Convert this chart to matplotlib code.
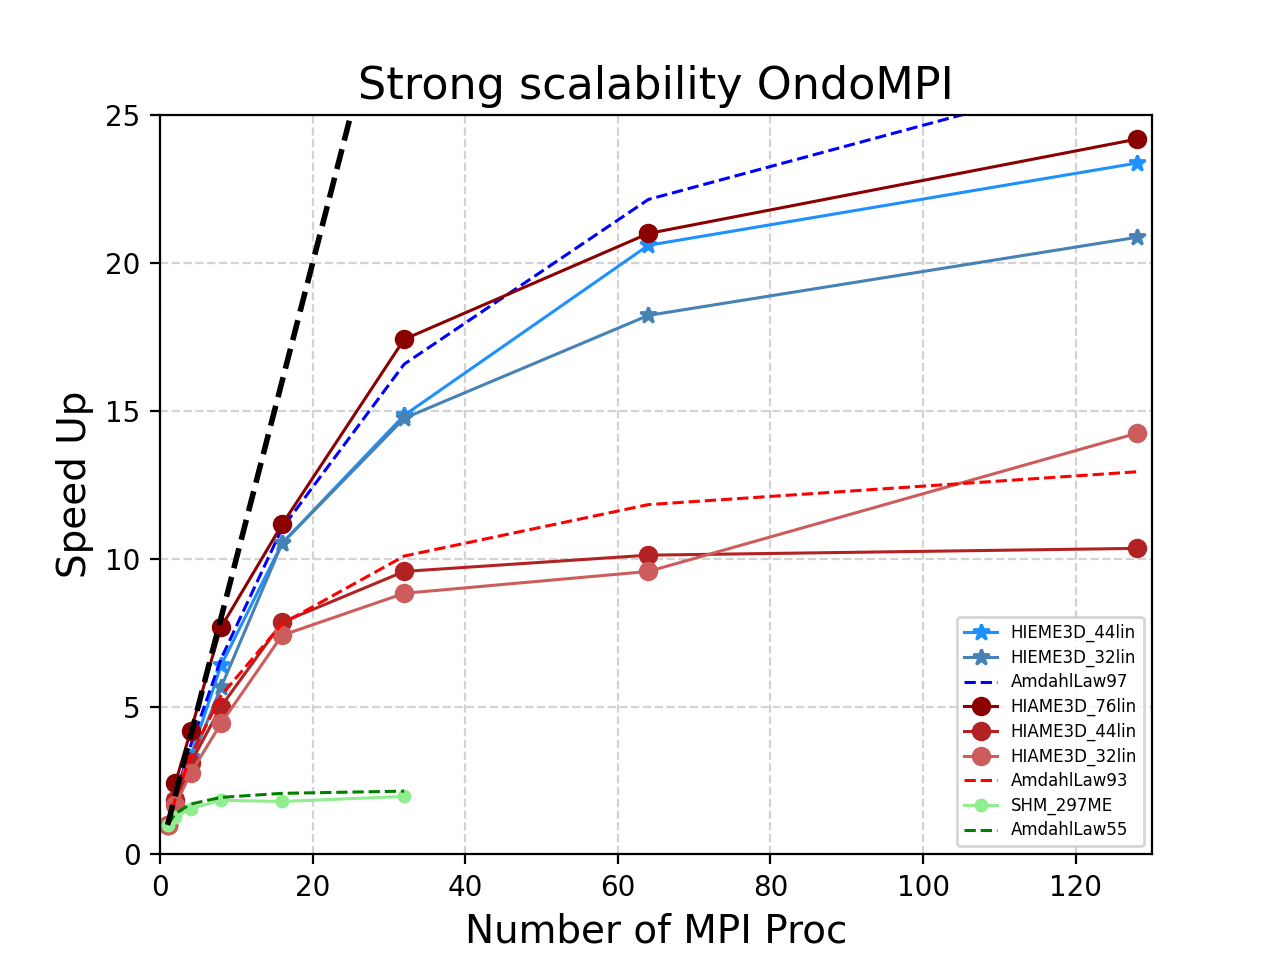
import numpy as np
import matplotlib
matplotlib.use("Agg")
import matplotlib.pyplot as plt

procs = [1, 2, 4, 8, 16, 32, 64, 128]
procs_shm = [1, 2, 4, 8, 16, 32]

hieme_44 = [1.0, 1.9, 3.3, 6.39, 10.52, 14.85, 20.6, 23.38]
hieme_32 = [1.0, 1.8, 3.1, 5.65, 10.52, 14.75, 18.23, 20.87]
amdahl_97 = [1.0, 1.942, 3.670, 6.612, 11.03, 16.58, 22.15, 26.61]

hiame_76 = [1.0, 2.40, 4.16, 7.68, 11.16, 17.42, 21.0, 24.19]
hiame_44 = [1.0, 1.85, 3.08, 5.0, 7.85, 9.57, 10.12, 10.35]
hiame_32 = [1.0, 1.66, 2.74, 4.43, 7.41, 8.83, 9.57, 14.24]
amdahl_93 = [1.0, 1.87, 3.31, 5.37, 7.80, 10.09, 11.83, 12.94]

shm_297 = [1.0, 1.25, 1.55, 1.83, 1.79, 1.96]
amdahl_55 = [1.0, 1.379, 1.702, 1.928, 2.065, 2.14]

ideal = [1, 128]

fig = plt.figure(figsize=(6.4, 4.8), dpi=200)

lw = 1.1
plt.plot(procs, hieme_44, '-*', color='dodgerblue', lw=lw, label='HIEME3D_44lin')
plt.plot(procs, hieme_32, '-*', color='steelblue', lw=lw, label='HIEME3D_32lin')
plt.plot(procs, amdahl_97, '--', color='blue', lw=lw, label='AmdahlLaw97')
plt.plot(procs, hiame_76, '-o', color='darkred', lw=lw, label='HIAME3D_76lin')
plt.plot(procs, hiame_44, '-o', color='firebrick', lw=lw, label='HIAME3D_44lin')
plt.plot(procs, hiame_32, '-o', color='indianred', lw=lw, label='HIAME3D_32lin')
plt.plot(procs, amdahl_93, '--', color='red', lw=lw, label='AmdahlLaw93')
plt.plot(procs_shm, shm_297, '-o', color='lightgreen', lw=lw, markersize=4, label='SHM_297ME')
plt.plot(procs_shm, amdahl_55, '--', color='green', lw=lw, label='AmdahlLaw55')
plt.plot(ideal, ideal, '--', color='black', lw=2)

plt.xlim(0, 130)
plt.ylim(0, 25)
plt.grid(linestyle='--', color='lightgray')
plt.title("Strong scalability OndoMPI", fontsize=16)
plt.xlabel("Number of MPI Proc", fontsize=14)
plt.ylabel("Speed Up", fontsize=14)
plt.legend(loc='lower right', fontsize=6, labelspacing=0.39)
plt.savefig("out.png")
